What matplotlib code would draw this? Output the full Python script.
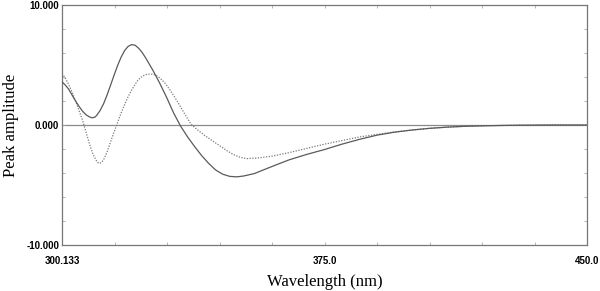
import numpy as np
import matplotlib
matplotlib.use("Agg")
import matplotlib.pyplot as plt

# Solid curve (wavelength nm, amplitude)
solid_wl = [300.133, 301, 302, 303, 304, 305, 306, 307, 308, 308.7, 309.5, 310, 311, 312, 313,
            314, 315, 316, 317, 318, 319, 320, 321, 322, 323, 324, 325, 326,
            328, 330, 332, 334, 336, 338, 340, 342, 344, 346, 348, 350, 352, 355, 358, 361,
            365, 370, 375, 380, 385, 390, 395, 400, 405, 410, 415, 420, 425, 430, 440, 450]
solid_amp = [3.6, 3.35, 3.0, 2.5, 2.0, 1.55, 1.15, 0.85, 0.67, 0.6, 0.65, 0.79, 1.2, 1.77, 2.5,
             3.32, 4.15, 4.95, 5.65, 6.2, 6.55, 6.7, 6.65, 6.4, 6.05, 5.6, 5.1, 4.6,
             3.5, 2.3, 1.0, -0.1, -1.0, -1.8, -2.55, -3.2, -3.75, -4.1, -4.28, -4.32, -4.25, -4.05, -3.7, -3.35,
             -2.9, -2.45, -2.05, -1.6, -1.2, -0.85, -0.6, -0.42, -0.28, -0.18, -0.11, -0.07, -0.04, -0.02, 0.0, 0.0]

# Dotted curve
dot_wl = [300.133, 301, 302, 303, 304, 305, 306, 307, 308, 309, 310, 310.6, 311.3, 312, 313,
          314, 315, 316, 317, 318, 319, 320, 321, 322, 323, 324, 325.5, 326.5, 327.5, 328.5, 329.5,
          331, 333, 335, 337, 339, 341, 343, 345, 347, 349, 351, 353, 356, 360,
          365, 370, 375, 380, 385, 390, 395, 400, 405, 410, 415, 420, 430, 440, 450]
dot_amp = [4.3, 3.95, 3.4, 2.75, 2.0, 1.2, 0.4, -0.6, -1.6, -2.45, -3.0, -3.2, -3.15, -2.9, -2.25,
           -1.4, -0.6, 0.2, 1.0, 1.7, 2.35, 2.9, 3.4, 3.8, 4.05, 4.2, 4.25, 4.2, 4.05, 3.8, 3.5,
           2.9, 2.0, 1.0, 0.05, -0.45, -0.9, -1.3, -1.7, -2.1, -2.45, -2.7, -2.8, -2.75, -2.6,
           -2.3, -1.95, -1.6, -1.3, -1.0, -0.78, -0.58, -0.42, -0.28, -0.18, -0.11, -0.07, -0.02, 0.0, 0.0]

x_min, x_max = 300.133, 450.0
y_min, y_max = -10.0, 10.0
x_labels = ["300.133", "375.0", "450.0"]
y_labels = ["-10.000", "0.000", "10.000"]

fig = plt.figure(figsize=(6.0, 2.91), dpi=100)
ax = fig.add_axes([62/600, 46/291, 525/600, 240/291])

ax.axhline(0, color="#8a8a8a", lw=0.9, zorder=1)
ax.plot(solid_wl, solid_amp, color="#5a5a5a", lw=0.9, zorder=3)
ax.plot(dot_wl, dot_amp, color="#7a7a7a", lw=0.9, ls=(0, (1, 1.2)), zorder=2)

ax.set_xlim(x_min, x_max)
ax.set_ylim(y_min, y_max)

xt = np.linspace(x_min, x_max, 11)
yt = np.linspace(y_min, y_max, 11)
ax.set_xticks(xt)
ax.set_yticks(yt)
ax.set_xticklabels([x_labels[0], "", "", "", "", x_labels[1], "", "", "", "", x_labels[2]])
ax.set_yticklabels([y_labels[0], "", "", "", "", y_labels[1], "", "", "", "", y_labels[2]])
ax.tick_params(direction="in", length=2.5, width=0.6, color="#aaaaaa",
               top=True, right=True, labelsize=7)
ax.tick_params(axis="x", pad=8)
ax.tick_params(axis="y", pad=2)
for lab in ax.get_xticklabels() + ax.get_yticklabels():
    lab.set_fontweight("bold")
    lab.set_family("Liberation Sans")
for s in ax.spines.values():
    s.set_color("#777777")
    s.set_linewidth(0.9)

ax.set_xlabel("Wavelength (nm)", family="Liberation Serif", fontsize=12, labelpad=6)
ax.set_ylabel("Peak amplitude", family="Liberation Serif", fontsize=12, labelpad=5)

fig.savefig("out.png", dpi=100)
